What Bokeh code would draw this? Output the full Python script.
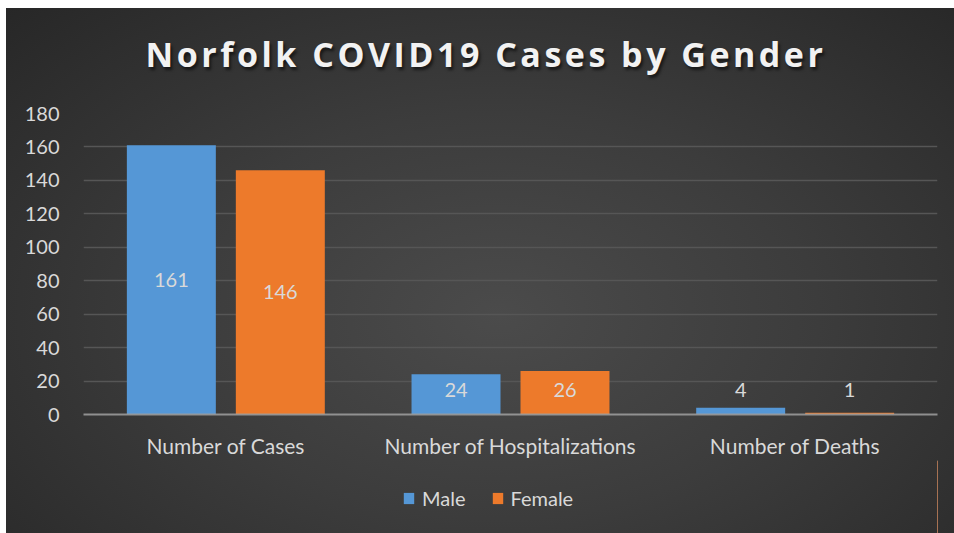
from bokeh.plotting import figure
from bokeh.layouts import column
from bokeh.models import (FactorRange, Range1d, ColumnDataSource, Legend, LegendItem,
                          FixedTicker, Div)
from bokeh.transform import dodge
from bokeh.core.properties import value
from bokeh.embed import file_html
from bokeh.resources import INLINE

# ---- data ----
categories = ["Number of Cases", "Number of Hospitalizations", "Number of Deaths"]
male = [161, 24, 4]
female = [146, 26, 1]
series_names = ["Male", "Female"]
y_ticks = [0, 20, 40, 60, 80, 100, 120, 140, 160, 180]
title_text = "Norfolk COVID19 Cases by Gender"

FONT = "Lato"
TXT = "#d9d9d9"
BLUE = "#5597d6"
ORANGE = "#ed7a2b"
LABEL_FLOOR = 14.6  # data labels never sit lower than this (keeps them above the axis)

src = ColumnDataSource(dict(
    cat=categories,
    male=male,
    female=female,
    male_txt=[str(v) for v in male],
    female_txt=[str(v) for v in female],
    male_y=[max(v / 2, LABEL_FLOOR) for v in male],
    female_y=[max(v / 2, LABEL_FLOOR) for v in female],
))

# ---- title ----
title_div = Div(
    text=('<div style="width:948px; box-sizing:border-box; text-align:center; '
          'padding-left:12px; padding-top:22px; '
          "font-family:'Open Sans'; font-weight:bold; font-size:34px; letter-spacing:3.5px; "
          'color:#f2f2f2; text-shadow:2px 3px 3px rgba(0,0,0,0.55); white-space:nowrap;">'
          + title_text + '</div>'),
    width=948, height=80, margin=0)

# ---- main chart ----
p = figure(x_range=FactorRange(*categories, range_padding=0),
           y_range=Range1d(0, 180),
           frame_width=854, frame_height=301,
           output_backend="svg", toolbar_location=None,
           min_border_left=77, min_border_right=17,
           min_border_top=25, min_border_bottom=41)
p.border_fill_alpha = 0
p.background_fill_alpha = 0
p.outline_line_color = None

OFF = 0.1914
W = 0.3126
rm = p.vbar(x=dodge("cat", -OFF, range=p.x_range), top="male", width=W, source=src,
            fill_color=BLUE, line_color=None)
rf = p.vbar(x=dodge("cat", OFF, range=p.x_range), top="female", width=W, source=src,
            fill_color=ORANGE, line_color=None)

for xo, ycol, tcol in [(-OFF, "male_y", "male_txt"), (OFF, "female_y", "female_txt")]:
    p.text(x=dodge("cat", xo, range=p.x_range), y=ycol, text=tcol, source=src,
           text_font=value(FONT), text_font_size="20px", text_color=TXT,
           text_align="center", text_baseline="middle")

p.xgrid.grid_line_color = None
p.ygrid.grid_line_color = "#565656"
p.ygrid.grid_line_width = 1.5
p.yaxis.ticker = FixedTicker(ticks=y_ticks)

p.yaxis.axis_line_color = None
p.yaxis.major_tick_line_color = None
p.yaxis.minor_tick_line_color = None
p.yaxis.major_label_text_font = FONT
p.yaxis.major_label_text_font_size = "20px"
p.yaxis.major_label_text_color = TXT
p.yaxis.major_label_standoff = 18

p.xaxis.axis_line_color = "#a0a0a0"
p.xaxis.axis_line_alpha = 0.85
p.xaxis.axis_line_width = 2
p.xaxis.major_tick_line_color = None
p.xaxis.minor_tick_line_color = None
p.xaxis.major_label_text_font = FONT
p.xaxis.major_label_text_font_size = "21px"
p.xaxis.major_label_text_color = TXT
p.xaxis.major_label_standoff = 12

# ---- legend strip (its frame is aligned with the chart frame by the column) ----
pl = figure(x_range=Range1d(-1, 0), y_range=Range1d(0, 1), width=948, height=79,
            output_backend="svg", toolbar_location=None,
            x_axis_location=None, y_axis_location=None,
            min_border_left=0, min_border_right=0, min_border_top=0, min_border_bottom=0)
pl.border_fill_alpha = 0
pl.background_fill_alpha = 0
pl.outline_line_color = None
pl.grid.grid_line_color = None
# legend-key renderers: the data lies outside this strip's ranges, so only the keys show
lm = pl.vbar(x="male", top="male", width=0.1, source=src, fill_color=BLUE, line_color=None)
lf = pl.vbar(x="female", top="female", width=0.1, source=src, fill_color=ORANGE, line_color=None)

legend = Legend(items=[LegendItem(label=series_names[0], renderers=[lm]),
                       LegendItem(label=series_names[1], renderers=[lf])],
                orientation="horizontal", location=(319, 29),
                background_fill_alpha=0, border_line_color=None,
                label_text_font=FONT, label_text_font_size="20px", label_text_color=TXT,
                glyph_width=13, glyph_height=14, label_standoff=7, spacing=25,
                padding=0, margin=0)
pl.add_layout(legend, "center")

layout = column(title_div, p, pl, spacing=0)
layout.styles = {"margin-left": "6px", "margin-top": "8px",
                 "background": "radial-gradient(ellipse 75% 85% at 52% 58%, #4b4b4b 0%, #3c3c3c 45%, #262626 100%)"}

open("out.html", "w").write(file_html(layout, INLINE))
